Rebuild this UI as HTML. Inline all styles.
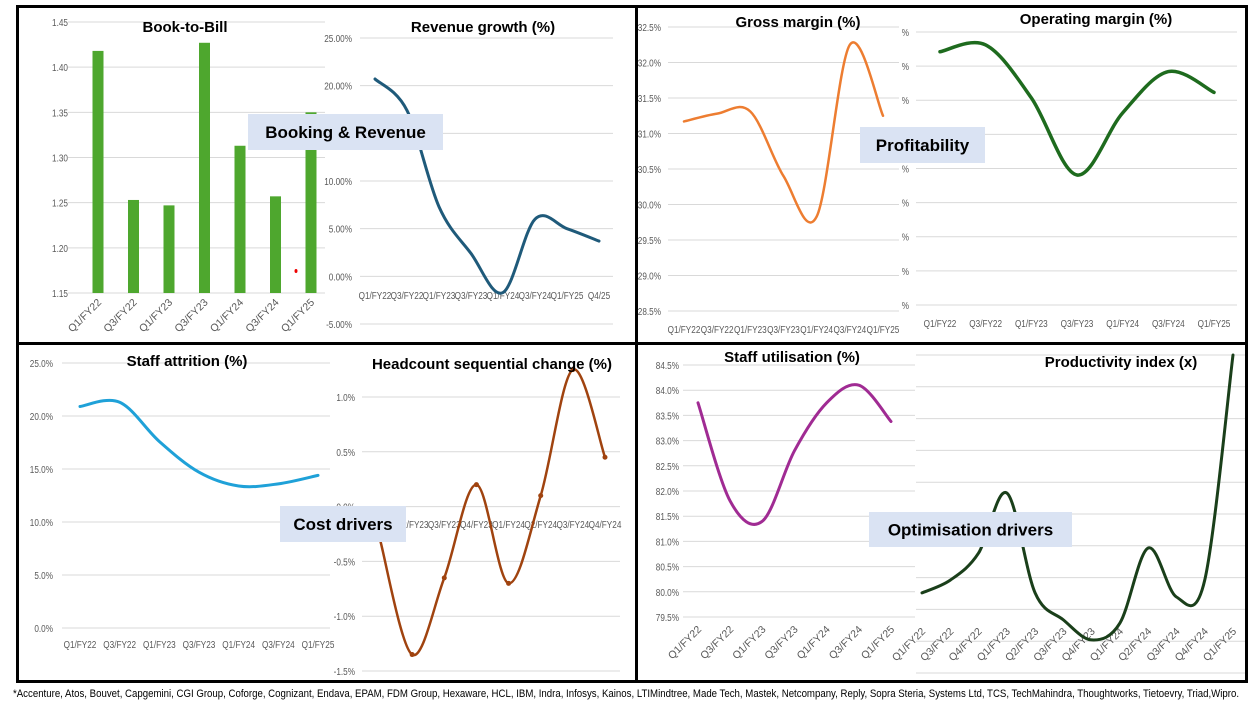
<!DOCTYPE html>
<html><head><meta charset="utf-8">
<style>
html,body{margin:0;padding:0;background:#fff;}
svg{display:block;font-family:"Liberation Sans",sans-serif;}
.tk{font-size:10.5px;fill:#595959;}
.ti{font-size:15px;font-weight:bold;fill:#000;}
.bx{font-size:17px;font-weight:bold;fill:#000;}
</style></head>
<body>
<svg id="c" width="1250" height="702" viewBox="0 0 1250 702" xmlns="http://www.w3.org/2000/svg"></svg>
<script>
// ---- data ----
const btbCats = ["Q1/FY22","Q3/FY22","Q1/FY23","Q3/FY23","Q1/FY24","Q3/FY24","Q1/FY25"];
const btbVals = [1.418,1.253,1.247,1.427,1.313,1.257,1.35];
const btbTicks = [1.15,1.20,1.25,1.30,1.35,1.40,1.45];

const revCats = ["Q1/FY22","Q3/FY22","Q1/FY23","Q3/FY23","Q1/FY24","Q3/FY24","Q1/FY25","Q4/25"];
const revVals = [20.7,17.4,7.3,2.4,-1.7,6.0,5.0,3.7];
const revTicks = [-5,0,5,10,15,20,25];

const gmCats = ["Q1/FY22","Q3/FY22","Q1/FY23","Q3/FY23","Q1/FY24","Q3/FY24","Q1/FY25"];
const gmVals = [31.17,31.28,31.31,30.4,29.83,32.25,31.25];
const gmTicks = [28.5,29.0,29.5,30.0,30.5,31.0,31.5,32.0,32.5];

const omCats = ["Q1/FY22","Q3/FY22","Q1/FY23","Q3/FY23","Q1/FY24","Q3/FY24","Q1/FY25"];
const omVals = [7.42,7.62,6.07,3.81,5.63,6.84,6.23];
const omTicks = [0,1,2,3,4,5,6,7,8];

const atCats = ["Q1/FY22","Q3/FY22","Q1/FY23","Q3/FY23","Q1/FY24","Q3/FY24","Q1/FY25"];
const atVals = [20.9,21.3,17.6,14.7,13.4,13.6,14.4];
const atTicks = [0,5,10,15,20,25];

const hcCats = ["Q1/FY23","Q2/FY23","Q3/FY23","Q4/FY23","Q1/FY24","Q2/FY24","Q3/FY24","Q4/FY24"];
const hcVals = [-0.3,-1.35,-0.65,0.2,-0.7,0.1,1.25,0.45];
const hcTicks = [-1.5,-1.0,-0.5,0.0,0.5,1.0];

const suCats = ["Q1/FY22","Q3/FY22","Q1/FY23","Q3/FY23","Q1/FY24","Q3/FY24","Q1/FY25"];
const suVals = [83.75,81.8,81.4,82.8,83.75,84.1,83.38];
const suTicks = [79.5,80.0,80.5,81.0,81.5,82.0,82.5,83.0,83.5,84.0,84.5];

const piCats = ["Q1/FY22","Q3/FY22","Q4/FY22","Q1/FY23","Q2/FY23","Q3/FY23","Q4/FY23","Q1/FY24","Q2/FY24","Q3/FY24","Q4/FY24","Q1/FY25"];
const piVals = [2.52,2.92,3.77,5.66,2.52,1.67,1.04,1.57,3.93,2.39,2.92,10];
const piTicks = [0,1,2,3,4,5,6,7,8,9,10];

// ---- helpers ----
const svg = document.getElementById('c');
const NS = 'http://www.w3.org/2000/svg';
function mk(tag, attrs, parent){
  const e = document.createElementNS(NS, tag);
  for (const k in attrs) e.setAttribute(k, attrs[k]);
  (parent||svg).appendChild(e);
  return e;
}
function lin(d0,d1,r0,r1){return v => r0 + (v-d0)/(d1-d0)*(r1-r0);}
function smooth(pts){
  let d = 'M'+pts[0][0]+','+pts[0][1];
  for (let i=0;i<pts.length-1;i++){
    const p0=pts[i-1]||pts[i], p1=pts[i], p2=pts[i+1], p3=pts[i+2]||p2;
    const c1=[p1[0]+(p2[0]-p0[0])/6, p1[1]+(p2[1]-p0[1])/6];
    const c2=[p2[0]-(p3[0]-p1[0])/6, p2[1]-(p3[1]-p1[1])/6];
    d+=' C'+c1[0]+','+c1[1]+' '+c2[0]+','+c2[1]+' '+p2[0]+','+p2[1];
  }
  return d;
}
function cond(x){return 'translate('+x+' 0) scale(0.78 1) translate('+(-x)+' 0)';}
function gridAndTicks(g, ticks, y, x0, x1, lx, fmt, name){
  ticks.forEach(t=>{
    const gl = mk('line',{x1:x0,x2:x1,y1:y(t),y2:y(t),stroke:'#d9d9d9','stroke-width':1},g);
    
    
    if (fmt){
      const tl = mk('text',{x:lx,y:y(t)+4,'text-anchor':'end',class:'tk',transform:cond(lx)},g);
      tl.textContent = fmt(t);
      
      
    }
  });
}
function xLabels(g, cats, xs, y, rot, name){
  cats.forEach((c,i)=>{
    let t;
    if (rot){
      t = mk('text',{x:xs[i]+4,y:y,'text-anchor':'end',class:'tk',transform:'rotate(-45 '+(xs[i]+4)+' '+y+')'},g);
    } else {
      t = mk('text',{x:xs[i],y:y,'text-anchor':'middle',class:'tk',transform:cond(xs[i])},g);
    }
    t.textContent = c;
    
    
  });
}
function title(txt, x, y, name){
  const t = mk('text',{x:x,y:y,'text-anchor':'middle',class:'ti'});
  t.textContent = txt;
  
  
}
function lineSeries(g, cats, vals, xs, y, color, w, name){
  const pts = vals.map((v,i)=>[xs[i], y(v)]);
  const p = mk('path',{d:smooth(pts),fill:'none',stroke:color,'stroke-width':w,'stroke-linecap':'round'},g);
  
  
  return pts;
}
function spread(n, a, b){const r=[];for(let i=0;i<n;i++)r.push(a+(b-a)*i/(n-1));return r;}
function group(name){
  const g = mk('g',{});
  
  
  return g;
}

// ---- Book-to-Bill ----
{
  const g = group('book-to-bill-chart');
  const y = lin(1.15,1.45,293,22);
  gridAndTicks(g, btbTicks, y, 68, 325, 68, t=>t.toFixed(2), 'book-to-bill');
  const xs = spread(btbCats.length, 98, 311);
  btbVals.forEach((v,i)=>{
    const b = mk('rect',{x:xs[i]-5.5,y:y(v),width:11,height:y(1.15)-y(v),fill:'#4ea72e'},g);
    
    
  });
  xLabels(g, btbCats, xs, 303, true, 'book-to-bill');
  const dot = mk('ellipse',{cx:296,cy:271,rx:1.5,ry:2,fill:'#e00'},g);
  
  
  title('Book-to-Bill', 185, 32, 'book-to-bill-title');
}
// ---- Revenue growth ----
{
  const g = group('revenue-growth-chart');
  const y = lin(-5,25,324,38);
  gridAndTicks(g, revTicks, y, 360, 613, 352, t=>t.toFixed(2)+'%', 'revenue-growth');
  const xs = spread(revCats.length, 375, 599);
  xLabels(g, revCats, xs, 299, false, 'revenue-growth');
  lineSeries(g, revCats, revVals, xs, y, '#1f5a7a', 3, 'revenue-growth-line');
  title('Revenue growth (%)', 483, 32, 'revenue-growth-title');
}
// ---- Gross margin ----
{
  const g = group('gross-margin-chart');
  const y = lin(28.5,32.5,311,27);
  gridAndTicks(g, gmTicks, y, 668, 899, 661, t=>t.toFixed(1)+'%', 'gross-margin');
  const xs = spread(gmCats.length, 684, 883);
  xLabels(g, gmCats, xs, 333, false, 'gross-margin');
  lineSeries(g, gmCats, gmVals, xs, y, '#ed7d31', 2.5, 'gross-margin-line');
  title('Gross margin (%)', 798, 27, 'gross-margin-title');
}
// ---- Operating margin ----
{
  const g = group('operating-margin-chart');
  const y = lin(0,8,305,32);
  gridAndTicks(g, omTicks, y, 916, 1237, 909, t=>'%', 'operating-margin');
  const xs = spread(omCats.length, 940, 1214);
  xLabels(g, omCats, xs, 327, false, 'operating-margin');
  lineSeries(g, omCats, omVals, xs, y, '#1e6b1e', 3.5, 'operating-margin-line');
  title('Operating margin (%)', 1096, 24, 'operating-margin-title');
}
// ---- Staff attrition ----
{
  const g = group('staff-attrition-chart');
  const y = lin(0,25,628,363);
  gridAndTicks(g, atTicks, y, 62, 330, 53, t=>t.toFixed(1)+'%', 'staff-attrition');
  const xs = spread(atCats.length, 80, 318);
  xLabels(g, atCats, xs, 648, false, 'staff-attrition');
  lineSeries(g, atCats, atVals, xs, y, '#1fa1d8', 3, 'staff-attrition-line');
  title('Staff attrition (%)', 187, 366, 'staff-attrition-title');
}
// ---- Headcount ----
{
  const g = group('headcount-change-chart');
  const y = lin(-1.5,1.0,671,397);
  gridAndTicks(g, hcTicks, y, 362, 620, 355, t=>t.toFixed(1)+'%', 'headcount');
  const xs = spread(hcCats.length, 380, 605);
  xLabels(g, hcCats, xs, 528, false, 'headcount');
  const pts = lineSeries(g, hcCats, hcVals, xs, y, '#a0430f', 2.5, 'headcount-line');
  pts.forEach((p,i)=>{
    const m = mk('circle',{cx:p[0],cy:p[1],r:2.5,fill:'#a0430f'},g);
    
    
  });
  title('Headcount sequential change (%)', 492, 369, 'headcount-title');
}
// ---- Staff utilisation ----
{
  const g = group('staff-utilisation-chart');
  const y = lin(79.5,84.5,617,365);
  gridAndTicks(g, suTicks, y, 683, 915, 679, t=>t.toFixed(1)+'%', 'staff-utilisation');
  const xs = spread(suCats.length, 698, 891);
  xLabels(g, suCats, xs, 630, true, 'staff-utilisation');
  lineSeries(g, suCats, suVals, xs, y, '#a02b93', 3, 'staff-utilisation-line');
  title('Staff utilisation (%)', 792, 362, 'staff-utilisation-title');
}
// ---- Productivity index ----
{
  const g = group('productivity-index-chart');
  const y = lin(0,10,673,355);
  gridAndTicks(g, piTicks, y, 916, 1248, 0, null, 'productivity');
  const xs = spread(piCats.length, 922, 1233);
  xLabels(g, piCats, xs, 632, true, 'productivity');
  lineSeries(g, piCats, piVals, xs, y, '#1a3f1a', 3, 'productivity-line');
  title('Productivity index (x)', 1121, 367, 'productivity-title');
}
// ---- section boxes ----
function box(txt, x, y, w, h, name){
  const r = mk('rect',{x:x,y:y,width:w,height:h,fill:'#dae3f3'});
  
  
  const t = mk('text',{x:x+w/2,y:y+h/2+6,'text-anchor':'middle',class:'bx'});
  t.textContent = txt;
  
  
}
box('Booking & Revenue', 248, 114, 195, 36, 'booking-revenue');
box('Profitability', 860, 127, 125, 36, 'profitability');
box('Cost drivers', 280, 506, 126, 36, 'cost-drivers');
box('Optimisation drivers', 869, 512, 203, 35, 'optimisation-drivers');

// ---- frame ----
const fr = [
  mk('rect',{x:17.5,y:6.5,width:1229,height:675,fill:'none',stroke:'#000','stroke-width':3}),
  mk('line',{x1:17,x2:1247,y1:343.5,y2:343.5,stroke:'#000','stroke-width':3}),
  mk('line',{x1:636.5,x2:636.5,y1:6,y2:682,stroke:'#000','stroke-width':3})
];
fr.forEach(e=>{
  
  
});
const fn = mk('text',{x:13,y:697,'font-size':'10.6',fill:'#000',textLength:1226,lengthAdjust:'spacingAndGlyphs'});
fn.textContent = '*Accenture, Atos, Bouvet, Capgemini, CGI Group, Coforge, Cognizant, Endava, EPAM, FDM Group, Hexaware, HCL, IBM, Indra, Infosys, Kainos, LTIMindtree, Made Tech, Mastek, Netcompany, Reply, Sopra Steria, Systems Ltd, TCS, TechMahindra, Thoughtworks, Tietoevry, Triad,Wipro.';


</script>
</body></html>
